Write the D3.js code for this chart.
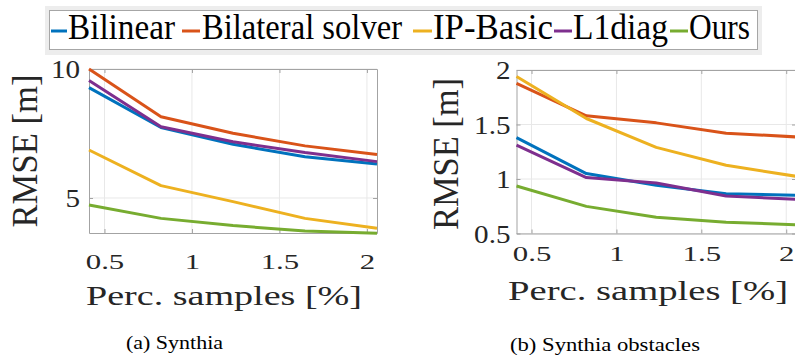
<!DOCTYPE html>
<html>
<head>
<meta charset="utf-8">
<script src="https://cdn.jsdelivr.net/npm/d3@7"></script>
<style>
  html, body { margin: 0; padding: 0; background: #fff; }
  svg { display: block; }
</style>
</head>
<body>
<svg id="chart" width="795" height="356"></svg>
<script>
// Sampling percentages shared by both panels
const samplePercent = [0.4115, 0.823, 1.2346, 1.6461, 2.0576];

const methods = ["Bilinear", "Bilateral solver", "IP-Basic", "L1diag", "Ours"];
const methodColors = ["#0072BD", "#D95319", "#EDB120", "#7E2F8E", "#77AC30"];

// RMSE [m] on Synthia
const synthiaBilinear  = [9.28, 7.73, 7.08, 6.60, 6.32];
const synthiaBilateral = [10.0, 8.15, 7.51, 7.02, 6.69];
const synthiaIPBasic   = [6.86, 5.48, 4.86, 4.21, 3.83];
const synthiaL1diag    = [9.55, 7.76, 7.18, 6.76, 6.41];
const synthiaOurs      = [4.73, 4.21, 3.93, 3.72, 3.63];

// RMSE [m] on Synthia obstacles
const obstaclesBilinear  = [1.38, 1.05, 0.942, 0.865, 0.85];
const obstaclesBilateral = [1.877, 1.58, 1.515, 1.42, 1.386];
const obstaclesIPBasic   = [1.94, 1.555, 1.29, 1.126, 1.025];
const obstaclesL1diag    = [1.31, 1.013, 0.963, 0.844, 0.813];
const obstaclesOurs      = [0.936, 0.749, 0.65, 0.604, 0.58];

const xTicks = [0.5, 1, 1.5, 2];
const synthiaYTicks = [5, 10];
const obstaclesYTicks = [0.5, 1, 1.5, 2];

const captions = ["(a) Synthia", "(b) Synthia obstacles"];
const xTitle = "Perc. samples [%]";
const yTitle = "RMSE [m]";

const serif = '"Liberation Serif"';
const svg = d3.select("#chart");
const axisColor = "#a3a3a3";
const gridColor = "#e8e8e8";
const labelColor = "#262626";

// stretch a text element horizontally to a factor of its natural width
function widen(sel, factor) {
  sel.each(function () {
    const w = this.getComputedTextLength();
    d3.select(this).attr("textLength", w * factor).attr("lengthAdjust", "spacingAndGlyphs");
  });
}

const panels = [
  {
    series: [synthiaBilinear, synthiaBilateral, synthiaIPBasic, synthiaL1diag, synthiaOurs],
    xRange: [89, 377], yRange: [233, 69], yDomain: [3.643, 10], yTicks: synthiaYTicks,
    tickBase: 269, xTitleX: 224, xTitleBase: 305, xTitleLen: 276,
    yTitleX: 37, yTitleY: 151, yTitleLen: 153, yLabelGap: 9,
    captionX: 174.5, captionBase: 349, captionLen: 97
  },
  {
    series: [obstaclesBilinear, obstaclesBilateral, obstaclesIPBasic, obstaclesL1diag, obstaclesOurs],
    xRange: [516.5, 796], yRange: [233.5, 70], yDomain: [0.5, 2], yTicks: obstaclesYTicks,
    tickBase: 261, xTitleX: 648, xTitleBase: 300, xTitleLen: 280,
    yTitleX: 458, yTitleY: 154, yTitleLen: 152, yLabelGap: 6,
    captionX: 605, captionBase: 351, captionLen: 190
  }
];

panels.forEach((p, pi) => {
  const x = d3.scaleLinear().domain([samplePercent[0], samplePercent[samplePercent.length - 1]]).range(p.xRange);
  const y = d3.scaleLinear().domain(p.yDomain).range(p.yRange);
  const [x0, x1] = p.xRange;
  const [yb, yt] = p.yRange;
  const g = svg.append("g");

  // grid
  g.selectAll(".vgrid").data(xTicks).join("line")
    .attr("x1", d => x(d)).attr("x2", d => x(d)).attr("y1", yb).attr("y2", yt)
    .attr("stroke", gridColor).attr("stroke-width", 1);
  g.selectAll(".hgrid").data(p.yTicks).join("line")
    .attr("x1", x0).attr("x2", x1).attr("y1", d => y(d)).attr("y2", d => y(d))
    .attr("stroke", gridColor).attr("stroke-width", 1);

  // axes with inward ticks on all four sides
  const bottom = g.append("g").attr("transform", `translate(0,${yb})`)
    .call(d3.axisBottom(x).tickValues(xTicks).tickSizeInner(-4).tickSizeOuter(0).tickPadding(0).tickFormat(d => String(d)));
  const top = g.append("g").attr("transform", `translate(0,${yt})`)
    .call(d3.axisTop(x).tickValues(xTicks).tickSizeInner(-4).tickSizeOuter(0).tickFormat(""));
  const left = g.append("g").attr("transform", `translate(${x0},0)`)
    .call(d3.axisLeft(y).tickValues(p.yTicks).tickSizeInner(-4).tickSizeOuter(0).tickPadding(p.yLabelGap).tickFormat(d => String(d)));
  const right = g.append("g").attr("transform", `translate(${x1},0)`)
    .call(d3.axisRight(y).tickValues(p.yTicks).tickSizeInner(-4).tickSizeOuter(0).tickFormat(""));

  [bottom, top, left, right].forEach(a => {
    a.attr("font-family", null);
    a.select(".domain").attr("stroke", axisColor).attr("stroke-width", 1);
    a.selectAll(".tick line").attr("stroke", axisColor);
  });

  bottom.selectAll(".tick text")
    .attr("y", p.tickBase - yb).attr("dy", null)
    .style("font-family", serif)
    .attr("fill", labelColor).attr("font-size", 22)
    .call(widen, 1.4);
  left.selectAll(".tick text")
    .style("font-family", serif)
    .attr("fill", labelColor).attr("font-size", 26).attr("dy", "0.34em")
    .call(widen, 1.12);

  // series lines
  const line = d3.line().x((d, i) => x(samplePercent[i])).y(d => y(d));
  g.selectAll(".series").data(p.series).join("path")
    .attr("d", d => line(d))
    .attr("fill", "none")
    .attr("stroke", (d, i) => methodColors[i])
    .attr("stroke-width", 3)
    .attr("stroke-linejoin", "round");

  // axis titles
  g.append("text")
    .attr("x", p.xTitleX).attr("y", p.xTitleBase)
    .attr("text-anchor", "middle").style("font-family", serif).attr("font-size", 27).attr("fill", labelColor)
    .attr("textLength", p.xTitleLen).attr("lengthAdjust", "spacingAndGlyphs")
    .text(xTitle);
  g.append("text")
    .attr("transform", `translate(${p.yTitleX},${p.yTitleY}) rotate(-90)`)
    .attr("text-anchor", "middle").style("font-family", serif).attr("font-size", 35).attr("fill", labelColor)
    .attr("textLength", p.yTitleLen).attr("lengthAdjust", "spacingAndGlyphs")
    .text(yTitle);

  // sub-figure caption
  svg.append("text")
    .attr("x", p.captionX).attr("y", p.captionBase)
    .attr("text-anchor", "middle").style("font-family", serif).attr("font-size", 18).attr("fill", "#000")
    .attr("textLength", p.captionLen).attr("lengthAdjust", "spacingAndGlyphs")
    .text(captions[pi]);
});

// legend
const legendItems = [
  { lineX: [51, 67],   textX: 68,  textLen: 107 },
  { lineX: [182, 200], textX: 202, textLen: 200 },
  { lineX: [413, 432], textX: 433, textLen: 120 },
  { lineX: [554, 572], textX: 573, textLen: 95 },
  { lineX: [670, 688], textX: 689, textLen: 61 }
];
const legend = svg.append("g");
legend.append("rect").attr("x", 45).attr("y", 6).attr("width", 717).attr("height", 49).attr("fill", "#ededed");
legend.append("rect").attr("x", 49.5).attr("y", 10.5).attr("width", 708).attr("height", 39)
  .attr("fill", "#fff").attr("stroke", "#a6a6a6").attr("stroke-width", 1);
legend.selectAll(".key").data(methods).join("line")
  .attr("x1", (d, i) => legendItems[i].lineX[0]).attr("x2", (d, i) => legendItems[i].lineX[1])
  .attr("y1", 31).attr("y2", 31)
  .attr("stroke", (d, i) => methodColors[i]).attr("stroke-width", 3);
legend.selectAll(".label").data(methods).join("text")
  .attr("x", (d, i) => legendItems[i].textX).attr("y", 39)
  .style("font-family", serif).attr("font-size", 35).attr("fill", "#000")
  .attr("textLength", (d, i) => legendItems[i].textLen).attr("lengthAdjust", "spacingAndGlyphs")
  .text(d => d);
</script>
</body>
</html>
